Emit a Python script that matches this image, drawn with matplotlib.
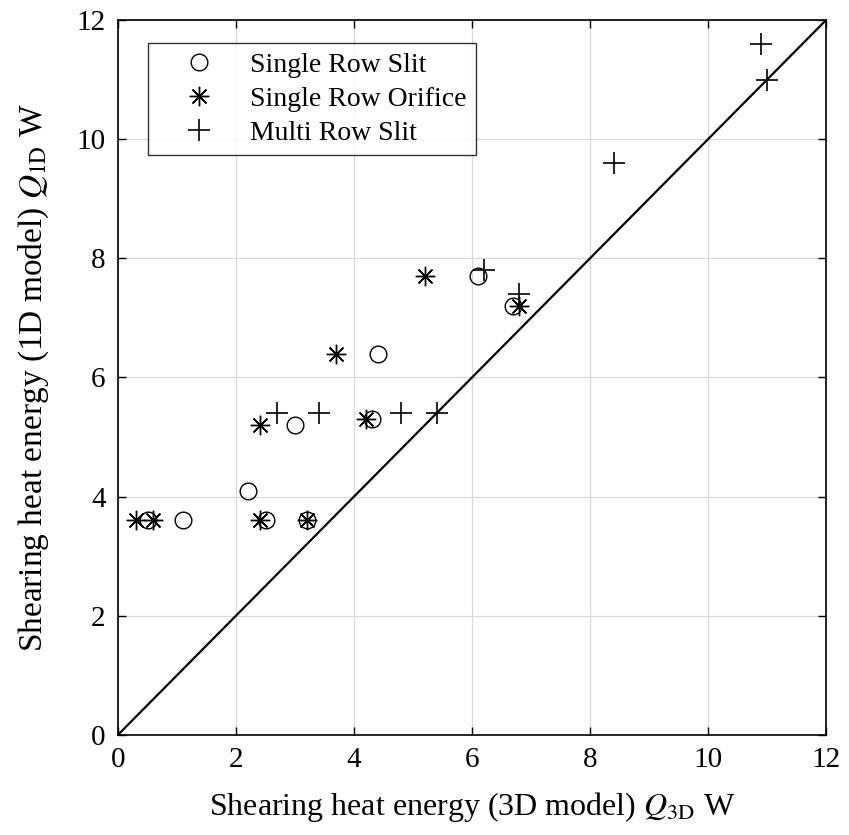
import numpy as np
import matplotlib
matplotlib.use("Agg")
import matplotlib.pyplot as plt

plt.rcParams['font.family'] = ['Liberation Serif', 'DejaVu Serif']
plt.rcParams['mathtext.fontset'] = 'stix'

# data (3D model vs 1D model)
slit_x = [0.5, 1.1, 2.2, 2.5, 3.0, 3.2, 4.3, 4.4, 6.1, 6.7]
slit_y = [3.6, 3.6, 4.1, 3.6, 5.2, 3.6, 5.3, 6.4, 7.7, 7.2]

orifice_x = [0.3, 0.6, 2.4, 2.4, 3.2, 3.7, 4.2, 5.2, 6.8]
orifice_y = [3.6, 3.6, 3.6, 5.2, 3.6, 6.4, 5.3, 7.7, 7.2]

multi_x = [2.7, 3.4, 4.8, 5.4, 6.2, 6.8, 8.4, 10.9, 11.0]
multi_y = [5.4, 5.4, 5.4, 5.4, 7.8, 7.4, 9.6, 11.6, 11.0]

fig = plt.figure(figsize=(8.49, 8.35), dpi=100)
ax = fig.add_axes([0.139, 0.12, 0.834, 0.856])

ax.plot(slit_x, slit_y, linestyle='none', marker='o', markersize=12,
        markerfacecolor='none', markeredgecolor='black', markeredgewidth=1.0,
        label='Single Row Slit')
ax.plot(orifice_x, orifice_y, linestyle='none', marker=(8, 2, 0), markersize=14,
        color='black', markeredgewidth=1.0, label='Single Row Orifice')
ax.plot(multi_x, multi_y, linestyle='none', marker='+', markersize=16,
        color='black', markeredgewidth=1.2, label='Multi Row Slit')

# y = x reference line
ax.plot([0, 12], [0, 12], color='black', linewidth=1.6)

ax.set_xlim(0, 12)
ax.set_ylim(0, 12)
ax.set_xticks(np.arange(0, 13, 2))
ax.set_yticks(np.arange(0, 13, 2))
ax.grid(True, color='#d9d9d9', linewidth=0.9)
ax.set_axisbelow(True)
ax.tick_params(direction='in', top=True, right=True, length=6, width=1.0,
               labelsize=21, pad=9)
for s in ax.spines.values():
    s.set_linewidth(1.2)

ax.set_xlabel(r'Shearing heat energy (3D model) $Q_{\rm 3D}$ W', fontsize=23,
              labelpad=12)
ax.set_ylabel(r'Shearing heat energy (1D model) $Q_{\rm 1D}$ W', fontsize=24,
              labelpad=18)

leg = ax.legend(loc='upper left', bbox_to_anchor=(0.042, 0.968), fontsize=20,
                frameon=True, fancybox=False, edgecolor='black',
                handletextpad=0.33, borderpad=0.35, labelspacing=0.3,
                handlelength=3.0, borderaxespad=0)
leg.get_frame().set_linewidth(1.0)

fig.savefig('out.png', dpi=100)
